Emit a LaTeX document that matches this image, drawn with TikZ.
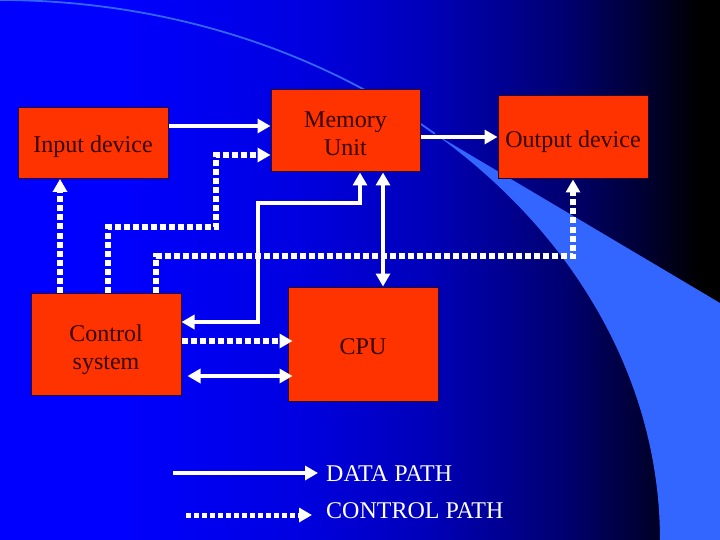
\documentclass[tikz,border=0pt]{standalone}
\usepackage{fontspec}
\setmainfont{Liberation Serif}
\usetikzlibrary{arrows.meta,calc}
\usepackage{xcolor}
\definecolor{boxred}{RGB}{255,51,0}
\definecolor{boxtext}{RGB}{51,0,0}
\definecolor{boxedge}{RGB}{40,0,50}
\definecolor{swoosh}{RGB}{51,102,255}
\pgfdeclarehorizontalshading{bgfade}{100bp}{rgb(0bp)=(0,0,1); rgb(33bp)=(0,0,1);
  rgb(45.8bp)=(0,0,.88); rgb(54.9bp)=(0,0,.72); rgb(63.9bp)=(0,0,.45);
  rgb(70.1bp)=(0,0,.18); rgb(73.6bp)=(0,0,0); rgb(100bp)=(0,0,0)}

\begin{document}
\begin{tikzpicture}[
  x=1pt, y=-1pt, >={Triangle[length=13pt,width=14pt]},
  unit/.style={draw=boxedge, line width=1pt, fill=boxred, text=boxtext, align=center,
    inner sep=0pt, text height=20pt, text depth=0pt, font=\fontsize{24}{28}\selectfont},
  twoline/.style={text height=50pt},
  dat/.style={draw=white, line width=4.5pt},
  ctl/.style={draw=white, line width=6pt, dash pattern=on 6pt off 3pt},
  legend/.style={text=white, anchor=west, inner sep=0pt, font=\fontsize{24}{28}\selectfont},
]
\useasboundingbox (0,0) rectangle (720,540);
% background
\shade[shading=bgfade] (0,0) rectangle (720,540);
\fill[swoosh] (435,134) -- (720,303) -- (720,540) -- (660,540)
  -- plot[domain=90:41.2, samples=40, smooth] ({660*sin(\x)}, {540-540*cos(\x)}) -- cycle;
\draw[swoosh, line width=1.8pt] plot[domain=0:41.2, samples=40, smooth] ({660*sin(\x)}, {540-540*cos(\x)});

% units
\node[unit, minimum width=150pt, minimum height=71pt] (inp) at (93,143) {Input device};
\node[unit, twoline, minimum width=149pt, minimum height=82pt] (mem) at (345.5,131) {Memory\\Unit};
\node[unit, minimum width=150pt, minimum height=83pt] (out) at (573,137.5) {Output device};
\node[unit, twoline, minimum width=150pt, minimum height=102pt] (ctrl) at (106,344) {Control\\system};
\node[unit, minimum width=150pt, minimum height=114pt] (cpu) at (363,344) {CPU};

% data paths
\coordinate (d0) at (0,126);
\coordinate (d1) at (360,203);
\coordinate (d2) at (258,322);
\coordinate (d3) at (383,0);
\coordinate (d4) at (0,376);
\coordinate (d5) at (0,137);
\draw[dat,->] (inp.east |- d0) -- (mem.west |- d0);
\draw[dat,->] (mem.east |- d5) -- (out.west |- d5);
\draw[dat,<->] (mem.south -| d1) -- (d1) -| (d2) -- (ctrl.east |- d2);
\draw[dat,<->] (mem.south -| d3) -- (cpu.north -| d3);
\draw[dat,<->, shorten <=6pt, shorten >=-5pt] (ctrl.east |- d4) -- (cpu.west |- d4);

% control paths
\coordinate (k1) at (108,227);
\coordinate (k2) at (216,155);
\coordinate (k3) at (156,256);
\coordinate (k4) at (60,0);
\coordinate (k5) at (0,341);
\draw[ctl,->] (ctrl.north -| k4) -- (inp.south -| k4);
\draw[ctl,->] (ctrl.north -| k1) -- (k1) -| (k2) -- (mem.west |- k2);
\draw[ctl,->] (ctrl.north -| k3) -- (k3) -| (out.south);
\draw[ctl,->, shorten >=-5pt] (ctrl.east |- k5) -- (cpu.west |- k5);

% legend
\node[legend] (ldat) at (326,474) {DATA PATH};
\node[legend] (lctl) at (326,511) {CONTROL PATH};
\coordinate (ld) at (173,473);
\coordinate (lc) at (186,515);
\draw[dat,->, shorten >=8pt] (ld) -- (ld -| ldat.west);
\draw[ctl,->, line width=5pt, dash pattern=on 5pt off 3pt, shorten >=14pt] (lc) -- (lc -| lctl.west);
\end{tikzpicture}
\end{document}
